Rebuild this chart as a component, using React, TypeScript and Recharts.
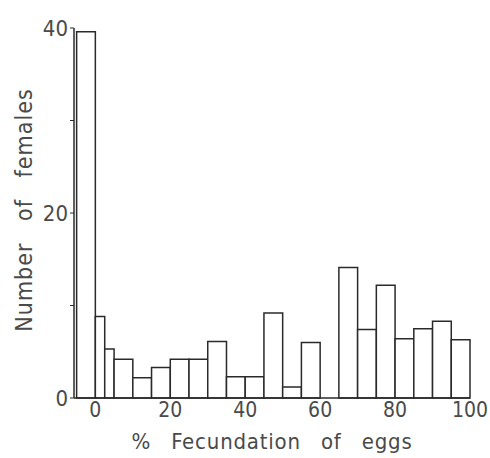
import React from "react";
import {
  ComposedChart,
  XAxis,
  YAxis,
  Line,
  ReferenceArea,
  Label,
} from "recharts";

// histogram bins: lower edge, upper edge, number of females
const binStart = [-5, 0, 2.5, 5, 10, 15, 20, 25, 30, 35, 40, 45, 50, 55, 60, 65, 70, 75, 80, 85, 90, 95];
const binEnd = [0, 2.5, 5, 10, 15, 20, 25, 30, 35, 40, 45, 50, 55, 60, 65, 70, 75, 80, 85, 90, 95, 100];
const counts = [39.6, 8.8, 5.3, 4.2, 2.2, 3.3, 4.2, 4.2, 6.1, 2.3, 2.3, 9.2, 1.2, 6.0, 0, 14.1, 7.4, 12.2, 6.4, 7.5, 8.3, 6.3];

const xTicks = [0, 20, 40, 60, 80, 100];
const yTicks = [0, 10, 20, 30, 40];
const yLabelled = [0, 20, 40];

const data = binStart.map((s, i) => ({
  x1: s,
  x2: binEnd[i],
  mid: (s + binEnd[i]) / 2,
  n: counts[i],
}));

const font = "'DejaVu Sans Condensed', 'DejaVu Sans', sans-serif";
const ink = "#2a2a2a";
const textInk = "#4a4a4a";

export default function App() {
  return (
    <div style={{ position: "absolute", left: 0, top: 0, background: "#fff" }}>
      <ComposedChart
        width={490}
        height={458}
        data={data}
        margin={{ top: 28, right: 20, bottom: 30, left: 0 }}
      >
        <XAxis
          type="number"
          dataKey="mid"
          domain={[-5.7, 100]}
          ticks={xTicks}
          allowDataOverflow
          height={30}
          tickLine={false}
          tickSize={2}
          axisLine={{ stroke: ink, strokeWidth: 1.5 }}
          tick={{ fill: textInk, fontSize: 21, fontFamily: font }}
        >
          <Label
            value="% Fecundation of eggs"
            position="insideBottom"
            offset={-21}
            style={{ fill: textInk, fontSize: 22, fontFamily: font, letterSpacing: 0.8, wordSpacing: 13 }}
          />
        </XAxis>
        <YAxis
          type="number"
          domain={[0, 40]}
          ticks={yTicks}
          width={74}
          tickSize={4}
          tickLine={{ stroke: ink }}
          axisLine={{ stroke: ink, strokeWidth: 1.5 }}
          tickFormatter={(v: number) => (yLabelled.includes(v) ? String(v) : "")}
          tick={{ fill: textInk, fontSize: 22, fontFamily: font }}
        >
          <Label
            value="Number of females"
            angle={-90}
            position="insideLeft"
            offset={24}
            dy={-3}
            style={{ fill: textInk, fontSize: 23, fontFamily: font, textAnchor: "middle", letterSpacing: 1, wordSpacing: 14 }}
          />
        </YAxis>
        {data.map((d, i) => (
          <ReferenceArea
            key={i}
            x1={d.x1}
            x2={d.x2}
            y1={0}
            y2={d.n}
            fill="#fff"
            fillOpacity={1}
            stroke={ink}
            strokeWidth={1.5}
            ifOverflow="visible"
          />
        ))}
        <Line dataKey="n" stroke="none" dot={false} isAnimationActive={false} />
      </ComposedChart>
    </div>
  );
}
